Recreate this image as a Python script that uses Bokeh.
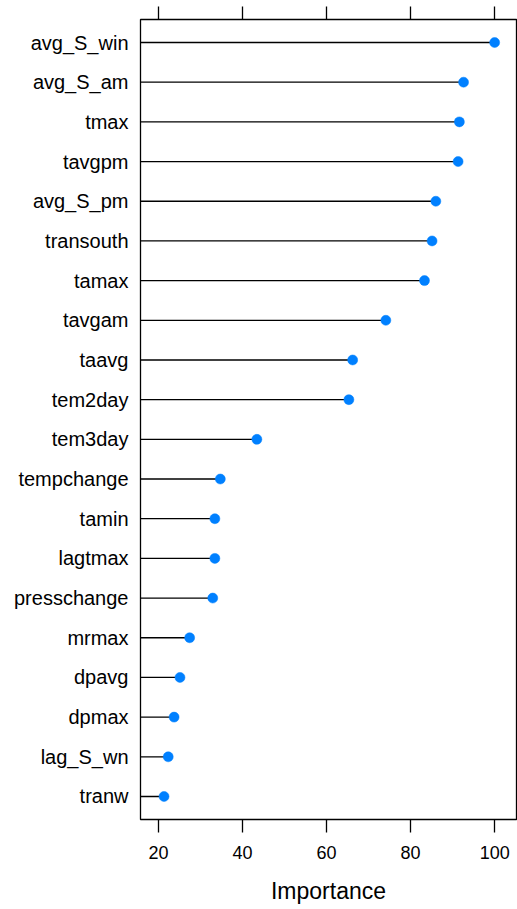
from bokeh.plotting import figure
from bokeh.models import Range1d, FactorRange, LinearAxis, FixedTicker, ColumnDataSource
from bokeh.embed import file_html
from bokeh.resources import INLINE

# ---- data ----
variables = ["avg_S_win", "avg_S_am", "tmax", "tavgpm", "avg_S_pm", "transouth",
             "tamax", "tavgam", "taavg", "tem2day", "tem3day", "tempchange",
             "tamin", "lagtmax", "presschange", "mrmax", "dpavg", "dpmax",
             "lag_S_wn", "tranw"]
importance = [100.0, 92.6, 91.6, 91.3, 86.0, 85.1,
              83.3, 74.1, 66.2, 65.3, 43.4, 34.7,
              33.4, 33.4, 32.9, 27.4, 25.1, 23.7,
              22.3, 21.3]
x_ticks = [20, 40, 60, 80, 100]
x_label = "Importance"

FONT = "Liberation Sans"
X_LO, X_HI = 15.7, 105.2

src = ColumnDataSource(dict(var=variables, imp=importance,
                            x0=[X_LO] * len(variables)))

p = figure(
    x_range=Range1d(X_LO, X_HI),
    y_range=FactorRange(factors=list(reversed(variables)),
                        range_padding=0.08, range_padding_units="absolute"),
    frame_width=376, frame_height=800,
    min_border_left=140, min_border_right=1,
    min_border_top=19, min_border_bottom=89,
    output_backend="svg", toolbar_location=None,
    background_fill_color="white", border_fill_color="white",
)

p.segment(x0="x0", y0="var", x1="imp", y1="var", source=src,
          line_color="black", line_width=1.3)
p.scatter(x="imp", y="var", source=src, size=10,
          fill_color="#0080ff", line_color="#0080ff", line_width=0.5)

p.xgrid.visible = False
p.ygrid.visible = False
p.outline_line_color = "black"
p.outline_line_width = 1.3

xa = p.xaxis[0]
xa.ticker = FixedTicker(ticks=x_ticks)
xa.axis_line_color = None
xa.major_tick_in = 0
xa.major_tick_out = 13
xa.major_tick_line_color = "black"
xa.major_tick_line_width = 1.3
xa.minor_tick_line_color = None
xa.major_label_text_font = FONT
xa.major_label_text_font_size = "18px"
xa.major_label_text_color = "black"
xa.major_label_standoff = 13
xa.axis_label = x_label
xa.axis_label_text_font = FONT
xa.axis_label_text_font_size = "23px"
xa.axis_label_text_font_style = "normal"
xa.axis_label_text_color = "black"
xa.axis_label_standoff = 16

top = LinearAxis(ticker=FixedTicker(ticks=x_ticks))
top.axis_line_color = None
top.major_tick_in = 0
top.major_tick_out = 13
top.major_tick_line_color = "black"
top.major_tick_line_width = 1.3
top.minor_tick_line_color = None
top.major_label_overrides = {t: "" for t in x_ticks}
top.major_label_text_font_size = "1px"
top.major_label_standoff = 0
p.add_layout(top, "above")

ya = p.yaxis[0]
ya.axis_line_color = None
ya.major_tick_line_color = None
ya.major_tick_in = 0
ya.major_tick_out = 0
ya.minor_tick_line_color = None
ya.major_label_text_font = FONT
ya.major_label_text_font_size = "20px"
ya.major_label_text_color = "black"
ya.major_label_standoff = 12

open("out.html", "w").write(file_html(p, INLINE))
